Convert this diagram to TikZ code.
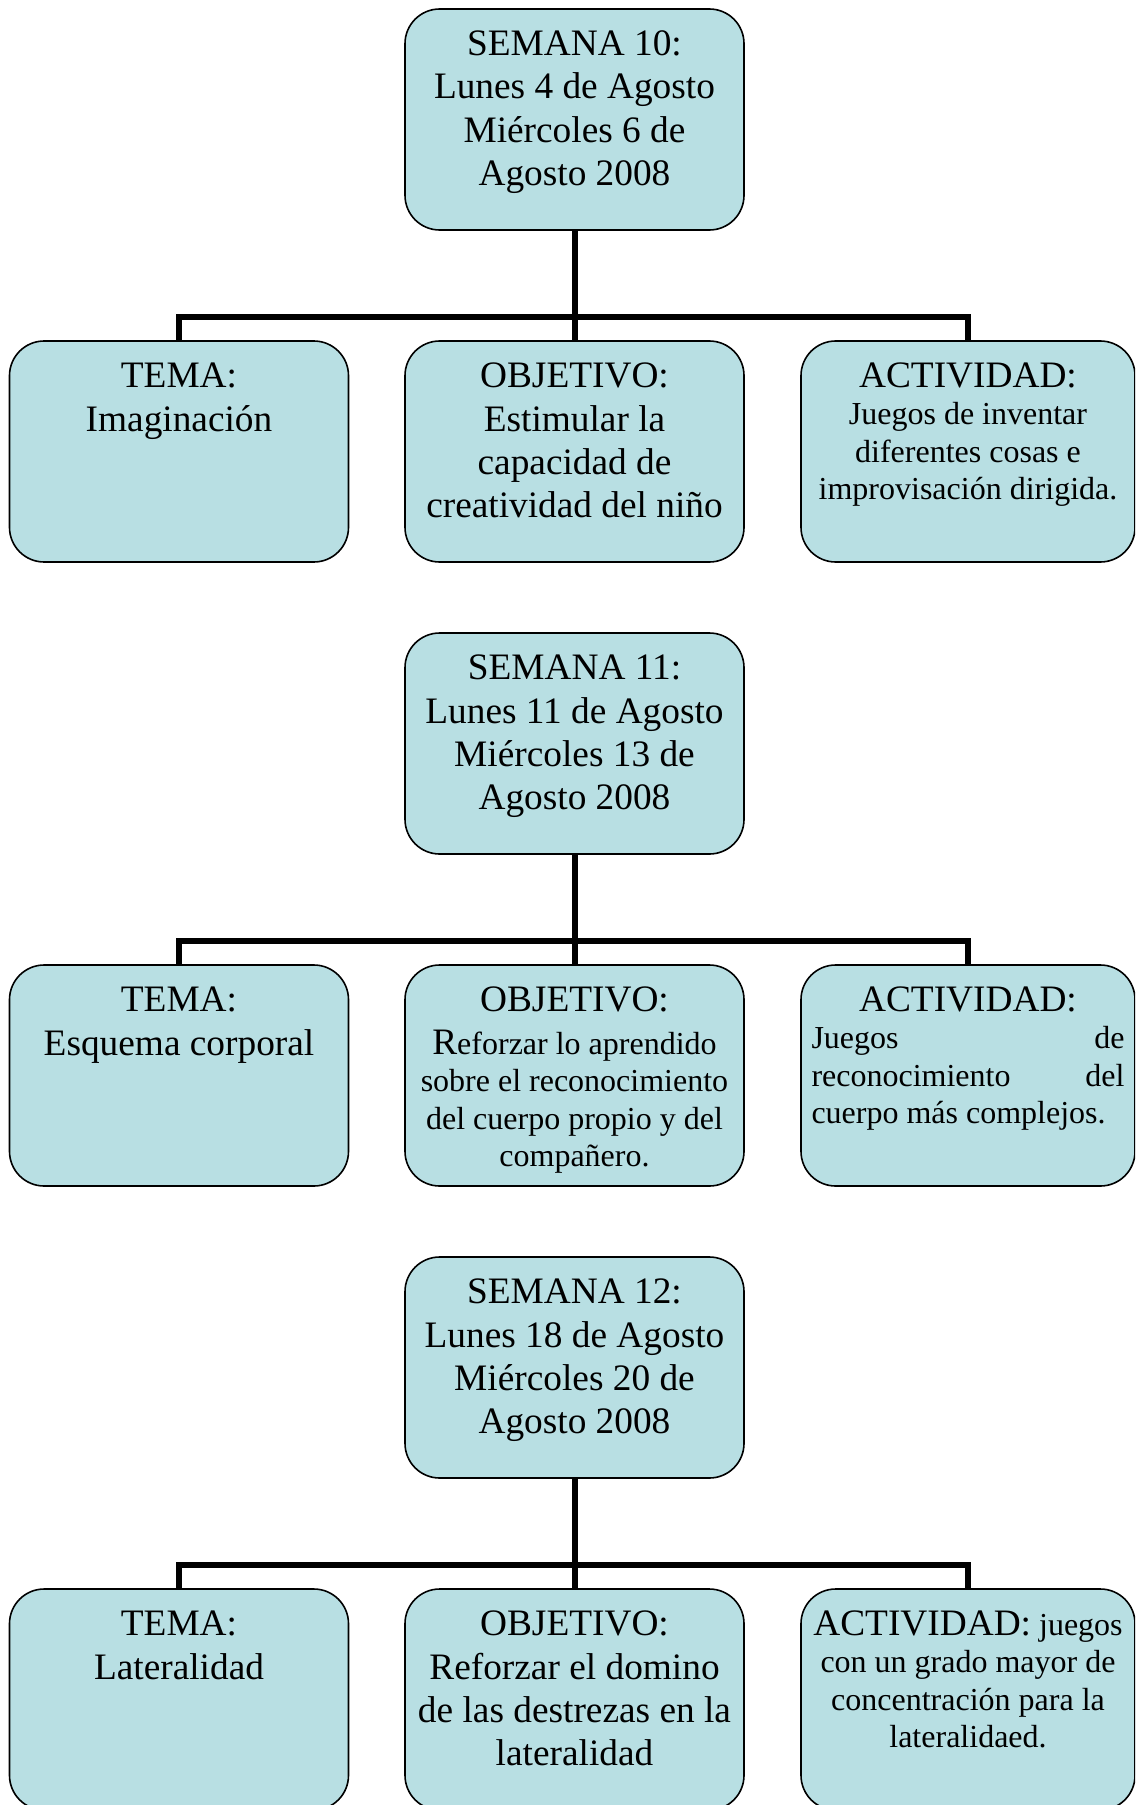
\documentclass[tikz,border=0pt]{standalone}
\usepackage{fontspec}
\setmainfont{Liberation Serif}
\definecolor{boxfill}{RGB}{184,223,227}
\newcommand\bigsz{\fontsize{28}{32.5}\selectfont}
\newcommand\smallsz{\fontsize{24}{27.9}\selectfont}
% centred lines with the font's own interword spacing
\newcommand\centrelines{\centering\spaceskip=0pt\xspaceskip=0pt\relax}
\newlength\actw
\setlength\actw{234.75pt}

\begin{document}
\begin{tikzpicture}[x=0.75pt,y=-0.75pt,
  card/.style={draw=black, line width=1.2pt, fill=boxfill, rounded corners=26pt,
               inner sep=0pt, outer sep=0pt, minimum height=165.75pt},
  wide/.style={card, minimum width=254.25pt},
  narrow/.style={card, minimum width=250.5pt},
  words/.style={anchor=base, inner sep=0pt, text width=252pt,
                execute at begin node=\centrelines},
  heading/.style={words, font=\bigsz},
  body/.style={words, font=\smallsz},
  link/.style={line width=4.5pt, line join=miter}
]
\clip (0,0) rectangle (1135,1805);

% ---------- week 10 ----------
\node[wide]   (w10)   at (574.5,119.5) {};
\node[wide]   (tema10) at (179,451.5) {};
\node[wide]   (obj10)  at (574.5,451.5) {};
\node[narrow] (act10)  at (968,451.5) {};
\coordinate (j10) at (574.5,317);
\draw[link] (w10.south) -- (j10);
\draw[link] (tema10.north) |- (j10) -| (act10.north);
\draw[link] (obj10.north) -- (j10);

\node[heading] (w10t) at ([yshift=-35pt]w10.north)
  {SEMANA 10:\\ Lunes 4 de Agosto\\ Miércoles 6 de\\ Agosto 2008};
\node[heading] (tema10t) at ([yshift=-35pt]tema10.north) {TEMA:\\ Imaginación};
\node[heading] (obj10t) at ([yshift=-35pt]obj10.north)
  {OBJETIVO:\\ Estimular la\\ capacidad de\\ creatividad del niño};
\node[body] (act10t) at ([yshift=-35pt]act10.north)
  {{\bigsz ACTIVIDAD:}\\ Juegos de inventar\\ diferentes cosas e\\ improvisación dirigida.};

% ---------- week 11 ----------
\node[wide]   (w11)   at (574.5,743.5) {};
\node[wide]   (tema11) at (179,1075.5) {};
\node[wide]   (obj11)  at (574.5,1075.5) {};
\node[narrow] (act11)  at (968,1075.5) {};
\coordinate (j11) at (574.5,941);
\draw[link] (w11.south) -- (j11);
\draw[link] (tema11.north) |- (j11) -| (act11.north);
\draw[link] (obj11.north) -- (j11);

\node[heading] (w11t) at ([yshift=-35pt]w11.north)
  {SEMANA 11:\\ Lunes 11 de Agosto\\ Miércoles 13 de\\ Agosto 2008};
\node[heading] (tema11t) at ([yshift=-35pt]tema11.north) {TEMA:\\ Esquema corporal};
\node[body] (obj11t) at ([yshift=-35pt]obj11.north)
  {{\bigsz OBJETIVO:}\\[4.4pt] {\bigsz R}eforzar lo aprendido\\ sobre el reconocimiento\\
   del cuerpo propio y del\\ compañero.};
\node[body, text width=\actw] (act11t) at ([yshift=-35pt]act11.north)
  {{\bigsz ACTIVIDAD:}\\
   \makebox[\actw][s]{Juegos de}\\
   \makebox[\actw][s]{reconocimiento del}\\
   \makebox[\actw][l]{cuerpo más complejos.}};

% ---------- week 12 ----------
\node[wide]   (w12)   at (574.5,1367.5) {};
\node[wide]   (tema12) at (179,1699.5) {};
\node[wide]   (obj12)  at (574.5,1699.5) {};
\node[narrow] (act12)  at (968,1699.5) {};
\coordinate (j12) at (574.5,1565);
\draw[link] (w12.south) -- (j12);
\draw[link] (tema12.north) |- (j12) -| (act12.north);
\draw[link] (obj12.north) -- (j12);

\node[heading] (w12t) at ([yshift=-35pt]w12.north)
  {SEMANA 12:\\ Lunes 18 de Agosto\\ Miércoles 20 de\\ Agosto 2008};
\node[heading] (tema12t) at ([yshift=-35pt]tema12.north) {TEMA:\\ Lateralidad};
\node[heading] (obj12t) at ([yshift=-35pt]obj12.north)
  {OBJETIVO:\\ Reforzar el domino\\ de las destrezas en la\\ lateralidad};
\node[body] (act12t) at ([yshift=-35pt]act12.north)
  {{\bigsz ACTIVIDAD:} juegos\\ con un grado mayor de\\ concentración para la\\ lateralidaed.};
\end{tikzpicture}
\end{document}
